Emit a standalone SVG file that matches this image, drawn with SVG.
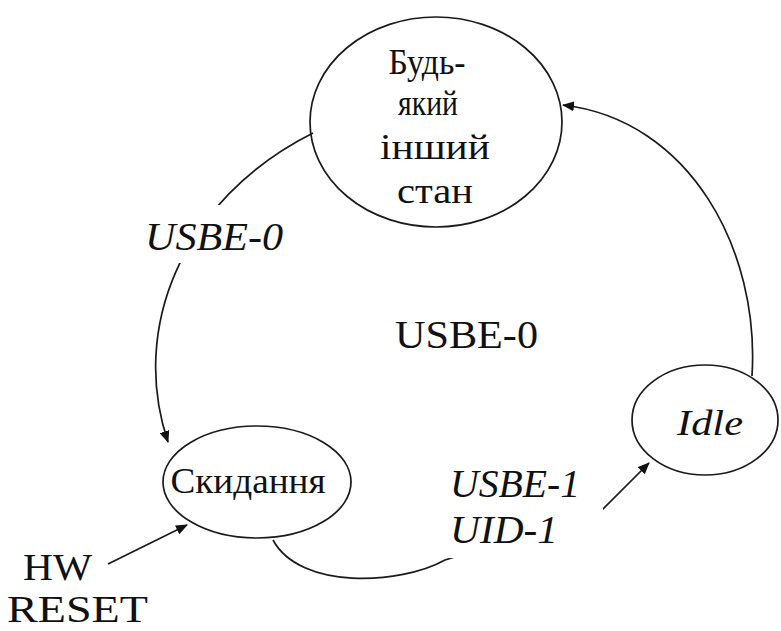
<svg xmlns="http://www.w3.org/2000/svg" width="781" height="631" viewBox="0 0 781 631">
  <defs>
    <marker id="arrow" viewBox="0 0 12 10" refX="11" refY="5" markerWidth="12" markerHeight="10" markerUnits="userSpaceOnUse" orient="auto">
      <path d="M0,0 L12,5 L0,10 Z" fill="#111"/>
    </marker>
  </defs>
  <style>
    .state { fill: none; stroke: #1a1a1a; stroke-width: 1.7; }
    .edge { fill: none; stroke: #1a1a1a; stroke-width: 1.7; marker-end: url(#arrow); }
    .bg { fill: #ffffff; stroke: none; }
    text { font-family: "Liberation Serif", "Times New Roman", serif; fill: #111; }
    .name { font-size: 36px; text-anchor: middle; }
    .cond { font-size: 41px; font-style: italic; }
    .plain { font-size: 41px; }
    .small { font-size: 37px; }
  </style>

  <rect width="781" height="631" fill="#ffffff"/>

  <!-- transitions -->
  <g id="connectors">
    <!-- any state -> reset -->
    <path class="edge" d="M313,133 C180,200 130,330 168,442"/>
    <!-- idle -> any state -->
    <path class="edge" d="M752,376 C760,250 690,120 563,105"/>
    <!-- reset -> idle -->
    <path class="edge" d="M273,540 C300,590 400,585 445,560 L600,512 L649,463"/>
    <!-- hardware reset input -->
    <path class="edge" d="M108,564 L187,525"/>

    <rect class="bg" x="140" y="205" width="150" height="58"/>
    <text class="cond" x="145" y="250" textLength="138" lengthAdjust="spacingAndGlyphs">USBE-0</text>

    <rect class="bg" x="446" y="462" width="157" height="96"/>
    <text class="cond" x="450" y="497" textLength="130" lengthAdjust="spacingAndGlyphs">USBE-1</text>
    <text class="cond" x="450" y="543" textLength="108" lengthAdjust="spacingAndGlyphs">UID-1</text>
  </g>

  <!-- states -->
  <g id="any-state">
    <ellipse class="state" cx="436" cy="122" rx="126" ry="105"/>
    <text class="name" x="427" y="74" textLength="77" lengthAdjust="spacingAndGlyphs">Будь-</text>
    <text class="name" x="428" y="115" textLength="60" lengthAdjust="spacingAndGlyphs">який</text>
    <text class="name" x="435" y="159" textLength="110" lengthAdjust="spacingAndGlyphs">інший</text>
    <text class="name" x="435" y="203" textLength="76" lengthAdjust="spacingAndGlyphs">стан</text>
  </g>

  <g id="reset">
    <ellipse class="state" cx="257" cy="482" rx="94" ry="56"/>
    <text class="name" x="248" y="493" font-size="34" textLength="155" lengthAdjust="spacingAndGlyphs">Скидання</text>
  </g>

  <g id="idle">
    <ellipse class="state" cx="705" cy="420" rx="73" ry="55"/>
    <text class="name" x="710" y="435" font-size="40" font-style="italic" textLength="66" lengthAdjust="spacingAndGlyphs">Idle</text>
  </g>

  <!-- free labels -->
  <g id="usbe-label">
    <text class="plain" x="395" y="348" textLength="143" lengthAdjust="spacingAndGlyphs">USBE-0</text>
  </g>

  <g id="hw-reset">
    <text class="small" x="23" y="580" textLength="69" lengthAdjust="spacingAndGlyphs">HW</text>
    <text class="small" x="7" y="622" textLength="141" lengthAdjust="spacingAndGlyphs">RESET</text>
  </g>
</svg>
